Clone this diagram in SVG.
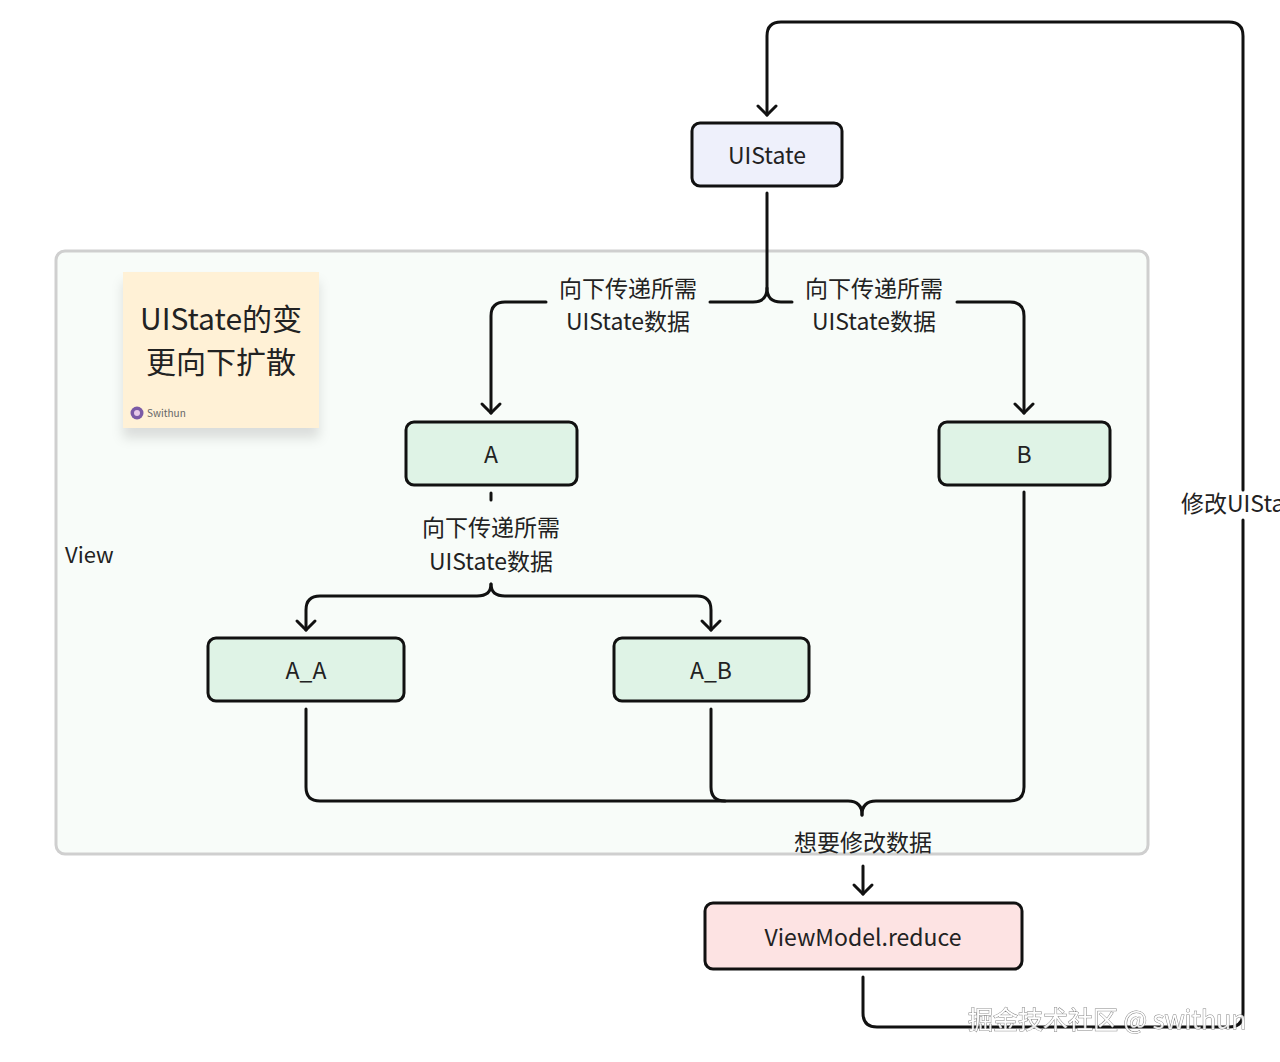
<svg xmlns="http://www.w3.org/2000/svg" width="1280" height="1062" viewBox="0 0 1280 1062">
<style>
.t{font-family:"Noto Sans CJK SC","Noto Sans",sans-serif;fill:#222;}
.lbl{font-size:23px;text-anchor:middle;}
.node{stroke:#111;stroke-width:3;}
.c{fill:none;stroke:#111;stroke-width:3;stroke-linecap:round;stroke-linejoin:round;}
</style>
<defs>
<marker id="arr" viewBox="-12 -12 24 24" refX="0" refY="0" markerWidth="24" markerHeight="24" markerUnits="userSpaceOnUse" orient="auto">
<path d="M-9,-9 L0,0 L-9,9" fill="none" stroke="#111" stroke-width="3" stroke-linecap="round" stroke-linejoin="round"/>
</marker>
<filter id="sh" x="-20%" y="-20%" width="150%" height="160%">
<feDropShadow dx="0" dy="10" stdDeviation="6" flood-color="#000" flood-opacity="0.12"/>
</filter>
</defs>
<rect width="1280" height="1062" fill="#ffffff"/>

<g id="view">
<rect x="56" y="251" width="1092" height="603" rx="9" fill="#f8fcf9" stroke="#cfcfcf" stroke-width="3"/>
<text class="t" x="65" y="563" font-size="22">View</text>
</g>

<g id="note">
<rect x="123" y="272" width="196" height="156" fill="#fff1d6" filter="url(#sh)"/>
<text class="t" x="221" y="330" font-size="30" text-anchor="middle">UIState的变</text>
<text class="t" x="221" y="373" font-size="30" text-anchor="middle">更向下扩散</text>
<circle cx="137" cy="413" r="6.5" fill="#7b5aa6"/>
<circle cx="137" cy="413" r="3" fill="#e7c9e9"/>
<text class="t" x="147" y="417" font-size="10" style="fill:#666">Swithun</text>
</g>

<g id="connectors">
<path class="c" d="M767,193 V288 Q767,302 753,302 H710"/>
<path class="c" d="M767,288 Q767,302 781,302 H792"/>
<path class="c" d="M546,302 H505 Q491,302 491,316 V413" marker-end="url(#arr)"/>
<path class="c" d="M957,302 H1010 Q1024,302 1024,316 V413" marker-end="url(#arr)"/>
<text class="t lbl" x="628" y="297">向下传递所需</text>
<text class="t lbl" x="628" y="330">UIState数据</text>
<text class="t lbl" x="874" y="297">向下传递所需</text>
<text class="t lbl" x="874" y="330">UIState数据</text>

<path class="c" d="M491,493 V500"/>
<text class="t lbl" x="491" y="536">向下传递所需</text>
<text class="t lbl" x="491" y="570">UIState数据</text>
<path class="c" d="M491,584 Q491,596 477,596 H320 Q306,596 306,610 V630" marker-end="url(#arr)"/>
<path class="c" d="M491,584 Q491,596 505,596 H697 Q711,596 711,610 V630" marker-end="url(#arr)"/>

<path class="c" d="M306,709 V787 Q306,801 320,801 H848 Q862,801 862,815"/>
<path class="c" d="M711,709 V787 Q711,801 725,801"/>
<path class="c" d="M1024,492 V787 Q1024,801 1010,801 H876 Q862,801 862,815"/>
<text class="t lbl" x="863" y="851">想要修改数据</text>
<path class="c" d="M863,866 V894" marker-end="url(#arr)"/>

<path class="c" d="M863,977 V1013 Q863,1027 877,1027 H1229 Q1243,1027 1243,1013 V520"/>
<path class="c" d="M1243,490 V36 Q1243,22 1229,22 H781 Q767,22 767,36 V115" marker-end="url(#arr)"/>
<text class="t" x="1181" y="512" font-size="23">修改UIState</text>
</g>

<g id="uistate">
<rect class="node" x="692" y="123" width="150" height="63" rx="8" fill="#eef0fb"/>
<text class="t lbl" x="767" y="164">UIState</text>
</g>
<g id="a">
<rect class="node" x="406" y="422" width="171" height="63" rx="8" fill="#dff3e6"/>
<text class="t lbl" x="491" y="463">A</text>
</g>
<g id="b">
<rect class="node" x="939" y="422" width="171" height="63" rx="8" fill="#dff3e6"/>
<text class="t lbl" x="1024" y="463">B</text>
</g>
<g id="a_a">
<rect class="node" x="208" y="638" width="196" height="63" rx="8" fill="#dff3e6"/>
<text class="t lbl" x="306" y="679">A_A</text>
</g>
<g id="a_b">
<rect class="node" x="614" y="638" width="195" height="63" rx="8" fill="#dff3e6"/>
<text class="t lbl" x="711" y="679">A_B</text>
</g>
<g id="reduce">
<rect class="node" x="705" y="903" width="317" height="66" rx="8" fill="#fde3e3"/>
<text class="t lbl" x="863" y="946">ViewModel.reduce</text>
</g>

<g id="watermark">
<text x="968" y="1029" font-family="Noto Sans CJK SC,sans-serif" font-size="25" fill="#ffffff" stroke="#777" stroke-width="1" paint-order="stroke" opacity="0.9">掘金技术社区 @ swithun</text>
</g>
</svg>
